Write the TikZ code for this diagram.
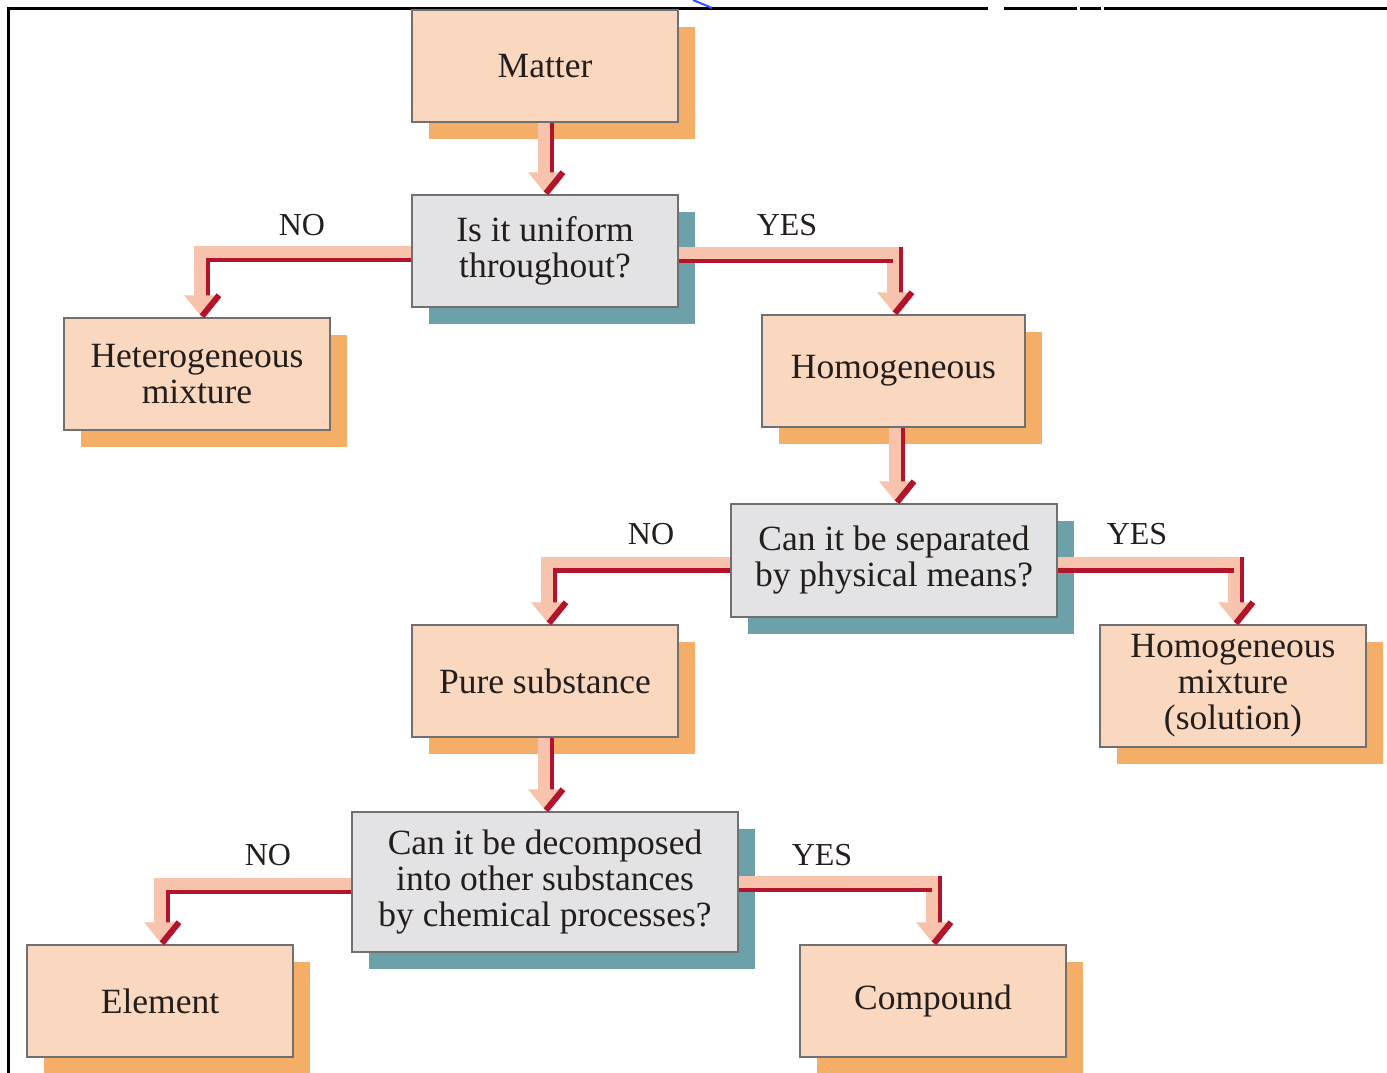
\documentclass[tikz,border=0pt]{standalone}
\usepackage{fontspec}
\setmainfont{Liberation Serif}
\usetikzlibrary{calc,shadows}
\definecolor{peachbox}{HTML}{FAD8C0}
\definecolor{orangesh}{HTML}{F4AE68}
\definecolor{graybox}{HTML}{E3E3E6}
\definecolor{tealsh}{HTML}{6DA1A9}
\definecolor{boxline}{HTML}{707070}
\definecolor{arrred}{HTML}{B3142C}
\definecolor{arrpeach}{HTML}{F7C3AC}
\definecolor{txt}{HTML}{231E1C}
\definecolor{bluemark}{HTML}{2A55FF}
\newcommand\flowhead[2]{%
  \fill[arrpeach] ($(#1.north)+(#2-7-17,-22)$) -- ($(#1.north)+(#2-7+17,-22)$) -- ($(#1.north)+(#2-6,0)$) -- cycle;
  \draw[redtick] ($(#1.north)+(#2-6,-1)$) -- ++(17,-21);
}
\begin{document}
\begin{tikzpicture}[x=1pt,y=-1pt,
  box/.style={draw=boxline,line width=1.5pt,minimum width=266pt,minimum height=112pt,inner sep=0pt,align=center,text=txt,font=\fontsize{35.5}{36}\selectfont},
  answer/.style={box,fill=peachbox,drop shadow={shadow xshift=17pt,shadow yshift=-17pt,fill=orangesh,draw=none,opacity=1}},
  question/.style={box,fill=graybox,drop shadow={shadow xshift=17pt,shadow yshift=-17pt,fill=tealsh,draw=none,opacity=1}},
  band/.style={draw=arrpeach,line width=14pt},
  redline/.style={draw=arrred,line width=4.5pt},
  redtick/.style={draw=arrred,line width=6pt},
  lab/.style={text=txt,font=\fontsize{32}{36}\selectfont,inner sep=0pt}]
\useasboundingbox (0,0) rectangle (1387,1073);
\fill[white] (0,0) rectangle (1387,1073);
% frame
\draw[line width=3pt] (1387,8.5) -- (8,8.5) -- (8,1073);
\draw[white,line width=4pt] (988,8.5) -- (1004,8.5) (1077,8.5) -- (1080,8.5) (1101,8.5) -- (1104,8.5);
\draw[bluemark,line width=2pt] (693,0) -- (712,8);
% nodes
\node[answer] (matter) at (545,66) {Matter};
\node[question] (q1) at (545,251) {Is it uniform\\throughout?};
\node[answer] (het) at (197,374) {Heterogeneous\\mixture};
\node[answer,minimum width=263pt] (hom) at (893.5,371) {Homogeneous};
\node[question,minimum width=326pt,minimum height=113pt] (q2) at (894,560.5) {Can it be separated\\by physical means?};
\node[answer,minimum height=122pt] (sol) at (1233,686) {Homogeneous\\mixture\\(solution)};
\node[answer] (pure) at (545,681) {Pure substance};
\node[question,minimum width=386pt,minimum height=140pt] (q3) at (545,882) {Can it be decomposed\\into other substances\\by chemical processes?};
\node[answer] (elem) at (160,1001) {Element};
\node[answer] (comp) at (933,1001) {Compound};
% labels
\node[lab] (l1) at (302,225) {NO};
\node[lab] (l2) at (787,225) {YES};
\node[lab] (l3) at (651,534) {NO};
\node[lab] (l4) at (1137,534) {YES};
\node[lab] (l5) at (268,855) {NO};
\node[lab] (l6) at (822,855) {YES};
% helper corners
\coordinate (k3) at (hom.north |- q1.east);
\coordinate (k6) at (sol.north |- q2.east);
\coordinate (k9) at (comp.north |- q3.east);
% arrow 1: matter -> q1
\draw[band] (matter.south) -- ($(q1.north)+(0,-20)$);
\draw[redline] ($(matter.south)+(7,0)$) -- ($(q1.north)+(7,-9)$);
\flowhead{q1}{7}
% arrow 2: q1 -> het (NO)
\draw[band] ($(q1.west)+(0,2)$) -| ($(het.north)+(4,-20)$);
\draw[redline] ($(q1.west)+(0,9)$) -| ($(het.north)+(11,-9)$);
\flowhead{het}{11}
% arrow 3: q1 -> hom (YES)
\draw[band] ($(q1.east)+(0,3)$) -| ($(hom.north)+(0.5,-20)$);
\draw[redline] ($(q1.east)+(0,10)$) -- ($(k3)+(-1,10)$);
\draw[redline] ($(k3)+(7.5,-4)$) -- ($(hom.north)+(7.5,-9)$);
\flowhead{hom}{7.5}
% arrow 4: hom -> q2
\draw[band] ($(hom.south)+(2.5,0)$) -- ($(q2.north)+(2,-20)$);
\draw[redline] ($(hom.south)+(9.5,0)$) -- ($(q2.north)+(9,-9)$);
\flowhead{q2}{9}
% arrow 5: q2 -> pure (NO)
\draw[band] ($(q2.west)+(0,3)$) -| ($(pure.north)+(3,-20)$);
\draw[redline] ($(q2.west)+(0,10)$) -| ($(pure.north)+(10,-9)$);
\flowhead{pure}{10}
% arrow 6: q2 -> sol (YES)
\draw[band] ($(q2.east)+(0,3)$) -| ($(sol.north)+(2,-20)$);
\draw[redline] ($(q2.east)+(0,10)$) -- ($(k6)+(1,10)$);
\draw[redline] ($(k6)+(9,-4)$) -- ($(sol.north)+(9,-9)$);
\flowhead{sol}{9}
% arrow 7: pure -> q3
\draw[band] (pure.south) -- ($(q3.north)+(0,-20)$);
\draw[redline] ($(pure.south)+(7,0)$) -- ($(q3.north)+(7,-9)$);
\flowhead{q3}{7}
% arrow 8: q3 -> elem (NO)
\draw[band] ($(q3.west)+(0,3)$) -| ($(elem.north)+(1,-20)$);
\draw[redline] ($(q3.west)+(0,10)$) -| ($(elem.north)+(8,-9)$);
\flowhead{elem}{8}
% arrow 9: q3 -> comp (YES)
\draw[band] ($(q3.east)+(0,1)$) -| ($(comp.north)+(0,-20)$);
\draw[redline] ($(q3.east)+(0,8)$) -- ($(k9)+(-1,8)$);
\draw[redline] ($(k9)+(7,-6)$) -- ($(comp.north)+(7,-9)$);
\flowhead{comp}{7}
\end{tikzpicture}
\end{document}
